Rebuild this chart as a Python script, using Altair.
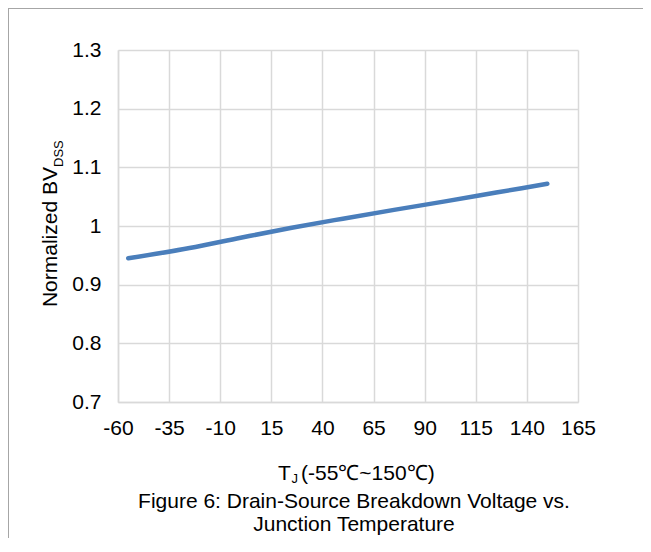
import altair as alt
import pandas as pd

temps = [-55, -25, 0, 25, 50, 75, 100, 125, 150]
bv = [0.945, 0.9625, 0.980, 0.997, 1.0125, 1.0275, 1.042, 1.057, 1.072]
x_ticks = [-60, -35, -10, 15, 40, 65, 90, 115, 140, 165]
y_ticks = [0.7, 0.8, 0.9, 1.0, 1.1, 1.2, 1.3]

FONT = "Liberation Sans"
GRID = "#d9d9d9"
TXT = "#000000"

df = pd.DataFrame({"t": temps, "bv": bv})

line = alt.Chart(df).mark_line(color="#4a7ebb", strokeWidth=4.5, strokeCap="round",
                               interpolate="monotone").encode(
    x=alt.X("t:Q", scale=alt.Scale(domain=[-60, 165], nice=False),
            axis=alt.Axis(values=x_ticks, title=None, grid=True, gridColor=GRID,
                          gridWidth=1.5, domainColor=GRID, domainWidth=1.5,
                          ticks=False, tickSize=0, labelPadding=15, labelFontSize=21,
                          labelFont=FONT, labelColor=TXT, labelFlush=False,
                          labelExpr="'' + datum.value")),
    y=alt.Y("bv:Q", scale=alt.Scale(domain=[0.7, 1.3], zero=False, nice=False),
            axis=alt.Axis(values=y_ticks, title=None, grid=True, gridColor=GRID,
                          gridWidth=1.5, domainColor=GRID, domainWidth=1.5,
                          ticks=False, tickSize=0, labelPadding=17, labelFontSize=21,
                          labelFont=FONT, labelColor=TXT,
                          labelExpr="'' + datum.value", labelFlush=False)),
)

one = pd.DataFrame({"a": [0]})


def txt(s, x, y, size=21, align="left", angle=0, dy=0):
    kw = dict(font=FONT, fontSize=size, color=TXT, align=align, baseline="alphabetic")
    if angle:
        kw["angle"] = angle
    if dy:
        kw["dy"] = dy
    return alt.Chart(one).mark_text(**kw).encode(
        x=alt.value(x), y=alt.value(y), text=alt.value(s))


ytitle_main = txt("Normalized BV", -61, 117, align="right", angle=270)
ytitle_sub = txt("DSS", -61, 117, size=13, align="left", angle=270, dy=6)

xt1 = txt("T", 160, 430)
xt2 = txt("J", 173.5, 433, size=13)
xt3 = txt("(-55\u2103~150\u2103)", 183, 430)

cap1 = txt("Figure 6: Drain-Source Breakdown Voltage vs.", 236, 458, align="center")
cap2 = txt("Junction Temperature", 236, 481, align="center")

vborder = alt.Chart(one).mark_rule(color="#a6a6a6", strokeWidth=1).encode(
    x=alt.value(-109.5), y=alt.value(-42), y2=alt.value(488))
hborder = alt.Chart(one).mark_rule(color="#a6a6a6", strokeWidth=1).encode(
    x=alt.value(-110), x2=alt.value(525), y=alt.value(-41.5))

chart = alt.layer(vborder, hborder, line, ytitle_main, ytitle_sub, xt1, xt2, xt3,
                  cap1, cap2).properties(
    width=460, height=352,
    autosize=alt.AutoSizeParams(type="none"),
    padding={"left": 110, "top": 42, "right": 65, "bottom": 136},
).configure_view(stroke=None)

chart.save("out.html", embed_options={"renderer": "svg", "actions": False})
